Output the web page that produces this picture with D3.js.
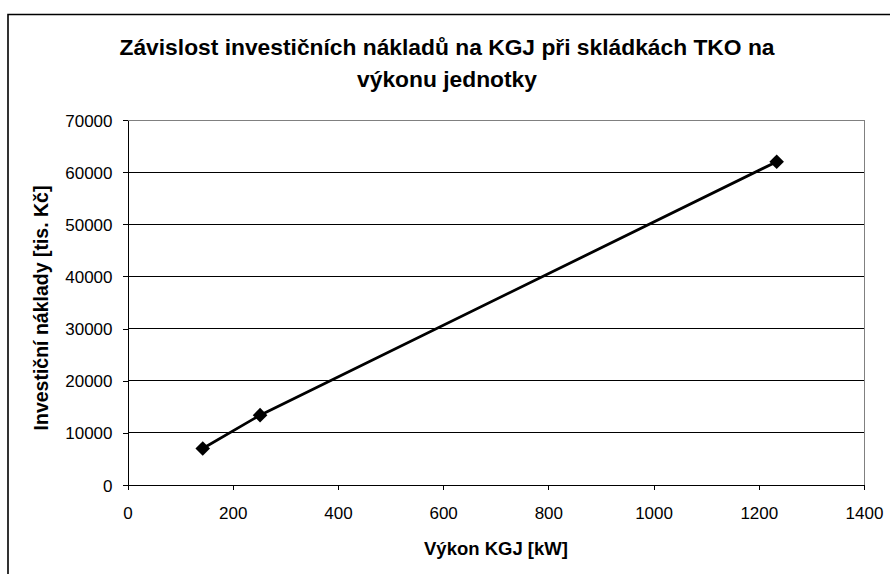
<!DOCTYPE html>
<html><head><meta charset="utf-8">
<script src="https://cdn.jsdelivr.net/npm/d3@7"></script>
<style>body{margin:0;background:#fff}svg{display:block}</style>
</head><body>
<script>
const power = [143, 252, 1234];
const cost = [7000, 13400, 62000];
const xTicks = [0, 200, 400, 600, 800, 1000, 1200, 1400];
const yTicks = [0, 10000, 20000, 30000, 40000, 50000, 60000, 70000];
const titleLines = ["Závislost investičních nákladů na KGJ při skládkách TKO na", "výkonu jednotky"];
const xTitle = "Výkon KGJ [kW]";
const yTitle = "Investiční náklady [tis. Kč]";

const W = 890, H = 574;
const svg = d3.select("body").append("svg").attr("width", W).attr("height", H);
const font = "Liberation Sans, Arial, sans-serif";

// outer frame (only left/top visible)
svg.append("path").attr("d", `M8,${H} L8,14.5 L${W},14.5`).attr("fill","none").attr("stroke","#000").attr("stroke-width",1.6);

const L = 127.5, R = 864, T = 120, B = 485;
const x = d3.scaleLinear().domain([0,1400]).range([L,R]);
const y = d3.scaleLinear().domain([0,70000]).range([B,T]);

// gridlines
svg.append("g").selectAll("line").data(yTicks.filter(d=>d>0 && d<70000)).join("line")
  .attr("x1",L).attr("x2",R).attr("y1",d=>y(d)).attr("y2",d=>y(d))
  .attr("stroke","#000").attr("stroke-width",1).attr("shape-rendering","crispEdges");
// plot border top/right gray
svg.append("path").attr("d",`M${L},${T} L${R},${T} L${R},${B}`).attr("fill","none")
  .attr("stroke","#808080").attr("stroke-width",1).attr("shape-rendering","crispEdges");

const xAxis = svg.append("g").attr("transform",`translate(0,${B})`)
  .call(d3.axisBottom(x).tickValues(xTicks).tickSize(5).tickSizeOuter(0).tickPadding(8).tickFormat(d3.format("d")));
const yAxis = svg.append("g").attr("transform",`translate(${L},0)`)
  .call(d3.axisLeft(y).tickValues(yTicks).tickSize(5).tickSizeOuter(0).tickPadding(10).tickFormat(d3.format("d")));
[xAxis,yAxis].forEach(a=>{
  a.selectAll("text").attr("font-family",font).attr("font-size",17).attr("fill","#000");
  a.selectAll("line,path").attr("stroke","#000").attr("shape-rendering","crispEdges");
});
xAxis.selectAll("text").attr("y",null).attr("dy",null).attr("y",33.5);
yAxis.selectAll("text").attr("dy","0.36em");

// line
const pts = power.map((p,i)=>[p,cost[i]]);
svg.append("path").datum(pts)
  .attr("d", d3.line().x(d=>x(d[0])).y(d=>y(d[1])))
  .attr("fill","none").attr("stroke","#000").attr("stroke-width",2.8);
svg.append("g").selectAll("path").data(pts).join("path")
  .attr("transform",d=>`translate(${x(d[0])},${y(d[1])})`)
  .attr("d","M0,-7.3 L7.3,0 L0,7.3 L-7.3,0 Z").attr("fill","#000");

// titles
svg.append("g").selectAll("text").data(titleLines).join("text")
  .attr("x",447).attr("y",(d,i)=>54.5+i*32).attr("text-anchor","middle")
  .attr("font-family",font).attr("font-weight","bold").attr("font-size",22.8).text(d=>d);
svg.append("text").attr("x",496).attr("y",555).attr("text-anchor","middle")
  .attr("font-family",font).attr("font-weight","bold").attr("font-size",18.5).text(xTitle);
svg.append("text").attr("transform",`translate(48,308) rotate(-90)`).attr("text-anchor","middle")
  .attr("font-family",font).attr("font-weight","bold").attr("font-size",19.5).text(yTitle);
</script>
</body></html>
